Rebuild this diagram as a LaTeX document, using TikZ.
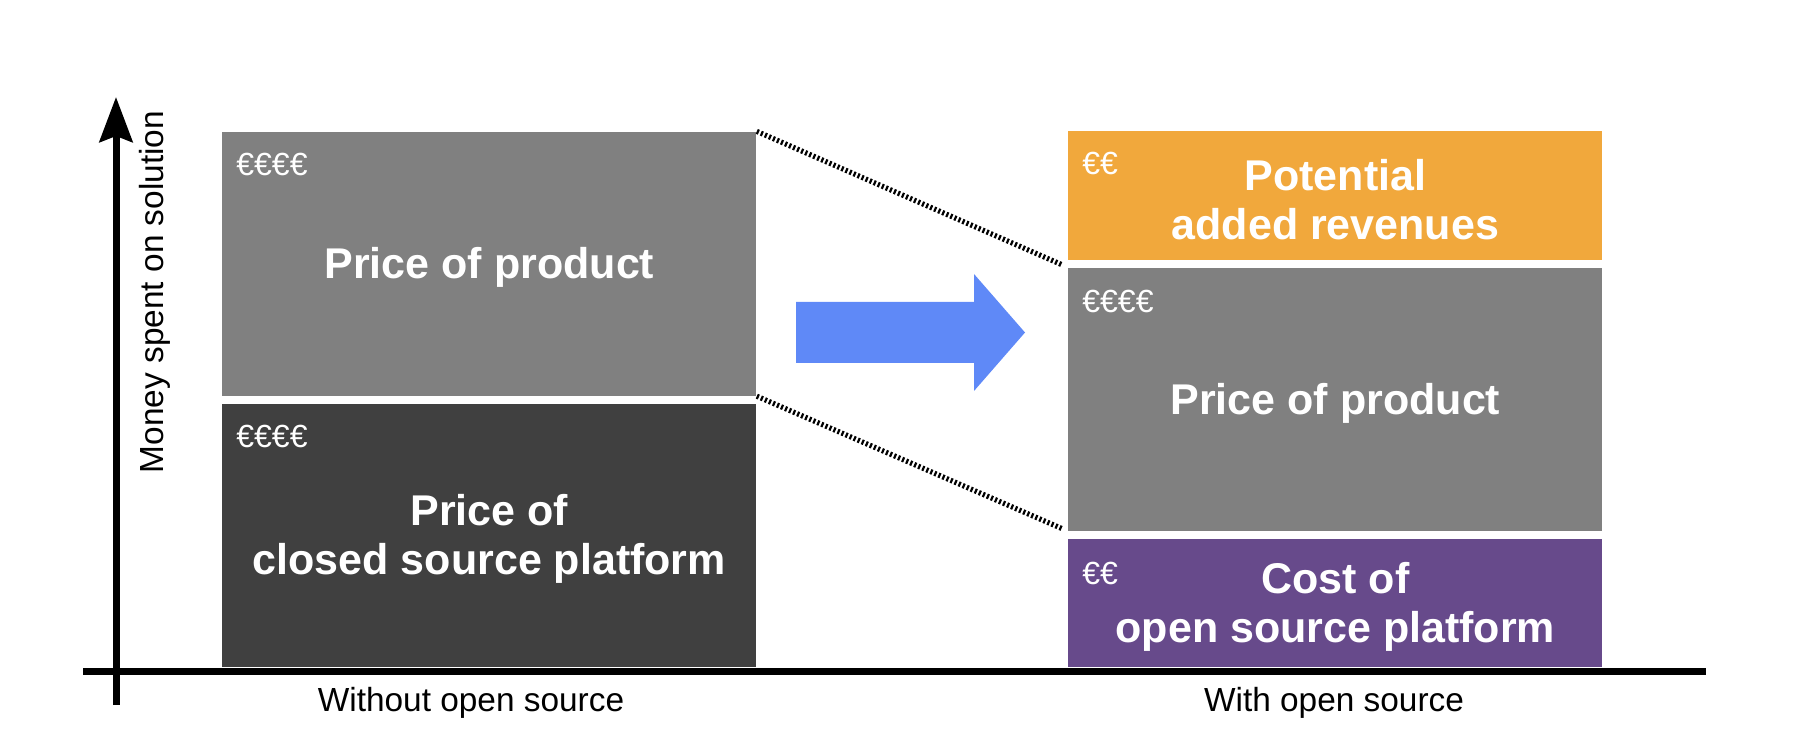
\documentclass[tikz,border=0pt]{standalone}
\usepackage{fontspec}
\setmainfont{Liberation Sans}
\usepackage{xcolor}
\usepackage{tikz}
\usetikzlibrary{positioning,arrows.meta}

\definecolor{prodgrey}{HTML}{808080}
\definecolor{platgrey}{HTML}{404040}
\definecolor{revorange}{HTML}{F1A83C}
\definecolor{ospurple}{HTML}{674A8B}
\definecolor{shiftblue}{HTML}{5F89F7}
\newcommand{\topstrut}{\rule{0pt}{19.5pt}}

\begin{document}
\begin{tikzpicture}[
  x=0.5pt, y=0.5pt,
  font=\fontsize{16.7}{20}\selectfont,
  box/.style={inner sep=0pt, minimum width=267pt, align=center, text=white, font=\fontsize{21.5}{24.5}\selectfont\bfseries},
  euro/.style={anchor=west, inner sep=0pt, text=white, font=\fontsize{16}{16}\selectfont},
  arr/.style={-{Stealth[length=22.5pt, width=16.5pt, inset=3pt]}, line width=3.5pt},
  zoomline/.style={line width=2.6pt, dash pattern=on 1.1pt off 1.1pt},
  node distance=3.5pt]
\useasboundingbox (0,0) rectangle (1794,750);
% without open source
\node[box, fill=platgrey, minimum height=131.5pt, anchor=south west] (platL) at (222,83) {\topstrut Price of\\ closed source platform};
\node[box, fill=prodgrey, minimum height=132pt, above=of platL] (prodL) {\topstrut Price of product};
% with open source
\node[box, fill=ospurple, minimum height=64pt, anchor=south west] (platR) at (1068,83) {\topstrut Cost of\\ open source platform};
\node[box, fill=prodgrey, minimum height=131.5pt, above=of platR] (prodR) {\topstrut Price of product};
\node[box, fill=revorange, minimum height=64.5pt, above=of prodR] (revR) {\topstrut Potential\\ added revenues};
% amounts
\node[euro] (eurProdL) at ([shift={(7pt,-16.5pt)}]prodL.north west) {€€€€};
\node[euro] (eurPlatL) at ([shift={(7pt,-16.5pt)}]platL.north west) {€€€€};
\node[euro] (eurRevR) at ([shift={(7pt,-16.5pt)}]revR.north west) {€€};
\node[euro] (eurProdR) at ([shift={(7pt,-17pt)}]prodR.north west) {€€€€};
\node[euro] (eurPlatR) at ([shift={(7pt,-17.5pt)}]platR.north west) {€€};
% axes
\coordinate (yfoot) at (116,45);
\coordinate (ytop) at (116,653);
\coordinate (xleft) at (83,79);
\coordinate (xright) at (1706,79);
\draw[arr] (yfoot) -- (ytop);
\draw[line width=3.5pt] (xleft) -- (xright);
\node[rotate=90] (ylabel) at (154.5,458) {Money spent on solution};
\node (withoutlbl) at (471,47) {Without open source};
\node (withlbl) at (1334,47) {With open source};
% shift arrow
\fill[shiftblue] (796,387) -- (974,387) -- (974,359) -- (1025,417.5) -- (974,476) -- (974,448) -- (796,448) -- cycle;
\draw[zoomline, shorten >=3pt] (prodL.north east) -- (prodR.north west);
\draw[zoomline, shorten >=3pt] (prodL.south east) -- (prodR.south west);
\end{tikzpicture}
\end{document}
